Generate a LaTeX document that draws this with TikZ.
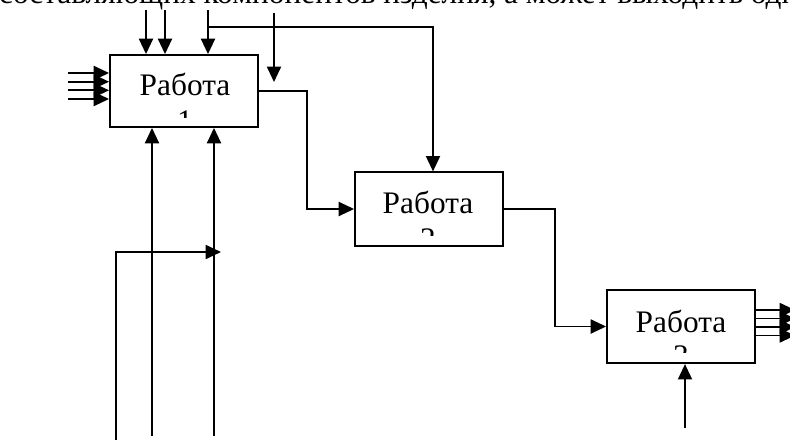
\documentclass[tikz,border=0pt]{standalone}
\usepackage{fontspec}
\setmainfont{Liberation Serif}
\usetikzlibrary{arrows.meta}
\begin{document}
\begin{tikzpicture}[x=0.75pt,y=-0.75pt,
  ln/.style={line width=1.4pt},
  arr/.style={ln,-{Triangle[length=11.5pt,width=10.5pt]}},
  wbox/.style={draw,line width=1.4pt,rectangle,inner sep=0pt,minimum width=111pt},
  lbl/.style={anchor=base,inner sep=0pt,font=\fontsize{23.5}{28}\selectfont},
  toptext/.style={inner sep=0pt,font=\fontsize{23.5}{28}\selectfont}]
\useasboundingbox (0,0) rectangle (790,440);
% top clipped line of text
\node[toptext,anchor=base west] (tx1) at (383,3) {изделия, а может выходить одна};
\node[toptext,anchor=base east] (tx0) at (376,3) {составляющих компонентов};
% boxes
\node[wbox,minimum height=54pt] (b1) at (184,91) {};
\node[wbox,minimum height=55pt] (b2) at (429,209) {};
\node[wbox,minimum height=55pt] (b3) at (681,326.5) {};
\node[lbl] (l1) at (185,95) {Работа};
\node[lbl] (l2) at (428,213) {Работа};
\node[lbl] (l3) at (681,332) {Работа};
\begin{scope}
  \clip (110,55) rectangle (258,117);
  \node[lbl] (n1) at (185,131) {1};
\end{scope}
\begin{scope}
  \clip (355,172) rectangle (503,235);
  \node[lbl] (n2) at (428,249) {2};
\end{scope}
\begin{scope}
  \clip (607,290) rectangle (755,352);
  \node[lbl] (n3) at (681,366) {3};
\end{scope}
% coordinates for free ends
\coordinate (t1) at (146,10);
\coordinate (t2) at (165,10);
\coordinate (t3) at (208,10);
\coordinate (t4) at (274,13);
\coordinate (t4e) at (274,82);
\coordinate (br) at (208,27);
\coordinate (brc) at (433,27);
\coordinate (bt1) at (152,436);
\coordinate (bt2) at (214,436);
\coordinate (bt3) at (116,440);
\coordinate (bt3c) at (116,252);
\coordinate (bt3e) at (221,252);
\coordinate (bt4) at (685,428);
% top arrows into box 1
\draw[arr] (t1) -- (t1 |- b1.north);
\draw[arr] (t2) -- (t2 |- b1.north);
\draw[arr] (t3) -- (t3 |- b1.north);
\draw[arr] (br) -- (brc) -- (brc |- b2.north);
\draw[arr] (t4) -- (t4e);
% left inputs to box 1
\foreach \yy [count=\i] in {73,81.7,90.3,99}{
  \coordinate (li\i) at (68,\yy);
  \draw[arr] (li\i) -- (li\i -| b1.west);
}
% bottom arrows into box 1
\draw[arr] (bt1) -- (bt1 |- b1.south);
\draw[arr] (bt2) -- (bt2 |- b1.south);
\draw[arr] (bt3) -- (bt3c) -- (bt3e);
% flows
\draw[arr] (b1.east) -- ++(48,0) |- (b2.west);
\draw[arr] (b2.east) -- ++(51,0) |- (b3.west);
% box 3 bottom
\draw[arr] (bt4) -- (bt4 |- b3.south);
% right outputs of box 3
\foreach \yy [count=\i] in {310,318.5,327,335.5}{
  \coordinate (ro\i) at (795,\yy);
  \draw[arr] (ro\i -| b3.east) -- (ro\i);
}
\end{tikzpicture}
\end{document}
